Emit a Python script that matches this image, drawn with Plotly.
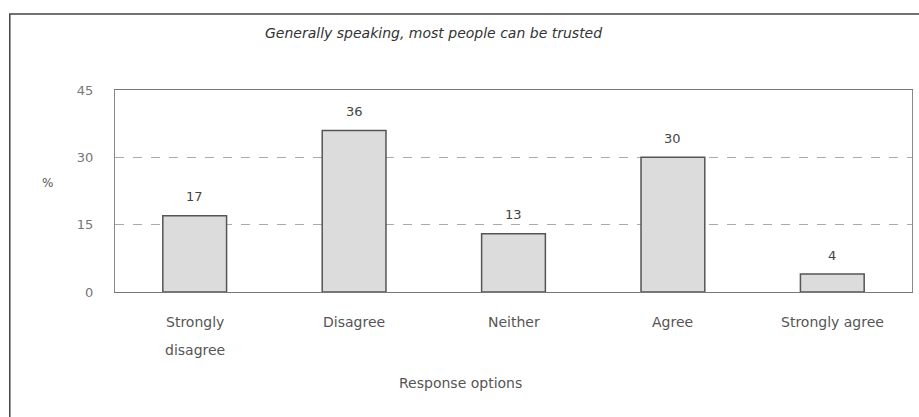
import plotly.graph_objects as go

categories = ["Strongly disagree", "Disagree", "Neither", "Agree", "Strongly agree"]
label_line1 = ["Strongly", "Disagree", "Neither", "Agree", "Strongly agree"]
label_line2 = ["disagree", "", "", "", ""]
values = [17, 36, 13, 30, 4]
y_ticks = [0, 15, 30, 45]

font_family = "DejaVu Sans, Liberation Sans, Arial, sans-serif"

fig = go.Figure()
fig.add_trace(go.Bar(
    x=categories, y=values,
    width=0.4,
    marker=dict(color="#dcdcdc", line=dict(color="#555555", width=1.5)),
    cliponaxis=False,
))

annotations = []
for c, v in zip(categories, values):
    annotations.append(dict(x=c, y=v, xref="x", yref="y", text=str(v), showarrow=False,
                            yshift=19, font=dict(size=13, color="#444444", family=font_family)))
for c, l1, l2 in zip(categories, label_line1, label_line2):
    annotations.append(dict(x=c, y=0, xref="x", yref="y", text=l1, showarrow=False,
                            yshift=-30, font=dict(size=14, color="#555555", family=font_family)))
    if l2:
        annotations.append(dict(x=c, y=0, xref="x", yref="y", text=l2, showarrow=False,
                                yshift=-58, font=dict(size=14, color="#555555", family=font_family)))

annotations.append(dict(x=0.40, y=1.282, xref="paper", yref="paper", xanchor="center", yanchor="middle",
                        text="<i>Generally speaking, most people can be trusted</i>", showarrow=False,
                        font=dict(size=14, color="#333333", family=font_family)))
annotations.append(dict(x=-0.085, y=0.54, xref="paper", yref="paper", text="%", showarrow=False,
                        xanchor="center", yanchor="middle",
                        font=dict(size=12, color="#555555", family=font_family)))
annotations.append(dict(x=0.433, y=-0.45, xref="paper", yref="paper", xanchor="center", yanchor="middle",
                        text="Response options", showarrow=False,
                        font=dict(size=14, color="#555555", family=font_family)))

fig.update_layout(
    width=919, height=417,
    margin=dict(l=115, r=7, t=90, b=125),
    paper_bgcolor="white", plot_bgcolor="white",
    showlegend=False,
    bargap=0.6,
    annotations=annotations,
    shapes=[dict(type="rect", xref="paper", yref="paper", x0=-0.132, x1=1.03, y0=-0.75, y1=1.376,
                 line=dict(color="#444444", width=1.5))],
    xaxis=dict(showticklabels=False, showgrid=False, showline=True, linecolor="#777777",
               linewidth=1.2, mirror=True, ticks="", zeroline=False),
    yaxis=dict(range=[0, 45], tickvals=y_ticks, showgrid=True, gridcolor="#aaaaaa",
               griddash="dash", gridwidth=1, showline=True, linecolor="#888888", linewidth=1.2,
               mirror=True, ticks="", zeroline=False, ticklabelstandoff=18,
               tickfont=dict(size=13, color="#777777", family=font_family)),
)

fig.write_html("out.html")
